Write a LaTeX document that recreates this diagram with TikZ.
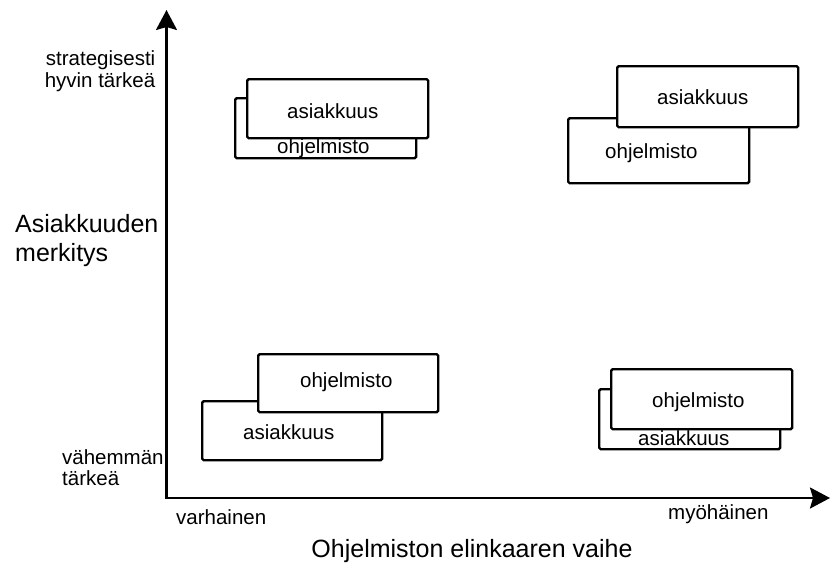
\documentclass[tikz,border=0pt]{standalone}
\usepackage{fontspec}
\setmainfont{Liberation Sans}
\usetikzlibrary{arrows.meta}
\begin{document}
\begin{tikzpicture}[x=1pt,y=-1pt,
  box/.style={draw, line width=2.4pt, rounded corners=1.5pt, fill=white,
    minimum width=181pt, inner sep=0pt, anchor=north west},
  boxtext/.style={inner sep=0pt, anchor=base west, font=\fontsize{20.5}{24}\selectfont},
  axislabel/.style={inner sep=0pt, font=\fontsize{20.5}{21.5}\selectfont},
  bigLabel/.style={inner sep=0pt, font=\fontsize{25}{29}\selectfont},
  tip/.style={Stealth[length=20pt,width=21pt,inset=3pt]}
]
\useasboundingbox (0,0) rectangle (831,565);

% axes
\coordinate (ytip) at (166.5,10);
\coordinate (origin) at (166.5,498);
\coordinate (xtip) at (830,498);
\draw[line width=2.4pt, {Stealth[length=20pt,width=21pt,inset=3pt]}-{Stealth[length=20pt,width=21pt,inset=3pt]}]
  (ytip) -- (origin) -- (xtip);

% axis labels (the base anchor of a two-line node sits on its last line)
\node[axislabel, font=\fontsize{20.5}{22}\selectfont, anchor=base east, align=right] (high) at (155.5,87)
  {strategisesti\\hyvin tärkeä};
\node[axislabel, font=\fontsize{20.5}{21}\selectfont, anchor=base west, align=left] (low) at (62,485)
  {vähemmän\\tärkeä};
\node[bigLabel, anchor=base west, align=left] (yname) at (15,261)
  {Asiakkuuden\\merkitys};
\node[axislabel, anchor=base west] (early) at (176,524) {varhainen};
\node[axislabel, anchor=base west] (late) at (668,519) {myöhäinen};
\node[bigLabel, anchor=base] (xname) at (472,557) {Ohjelmiston elinkaaren vaihe};

% top left pair
\node[box, minimum height=60pt] (tlback) at (234,97) {};
\node[boxtext] (tlbacktext) at (277,153) {ohjelmisto};
\node[box, minimum height=59pt] (tlfront) at (246,78) {};
\node[boxtext] (tlfronttext) at (287,118) {asiakkuus};

% top right pair
\node[box, minimum height=65pt] (trback) at (567,117) {};
\node[boxtext] (trbacktext) at (605,158) {ohjelmisto};
\node[box, minimum height=61pt] (trfront) at (616,65) {};
\node[boxtext] (trfronttext) at (657,104) {asiakkuus};

% bottom left pair
\node[box, minimum width=180pt, minimum height=59pt] (blback) at (201,400) {};
\node[boxtext] (blbacktext) at (243,439) {asiakkuus};
\node[box, minimum width=180pt, minimum height=58pt] (blfront) at (257,353) {};
\node[boxtext] (blfronttext) at (300,387) {ohjelmisto};

% bottom right pair
\node[box, minimum height=60pt] (brback) at (598,388) {};
\node[boxtext] (brbacktext) at (638,445) {asiakkuus};
\node[box, minimum height=60pt] (brfront) at (610,368) {};
\node[boxtext] (brfronttext) at (652,407) {ohjelmisto};
\end{tikzpicture}
\end{document}
